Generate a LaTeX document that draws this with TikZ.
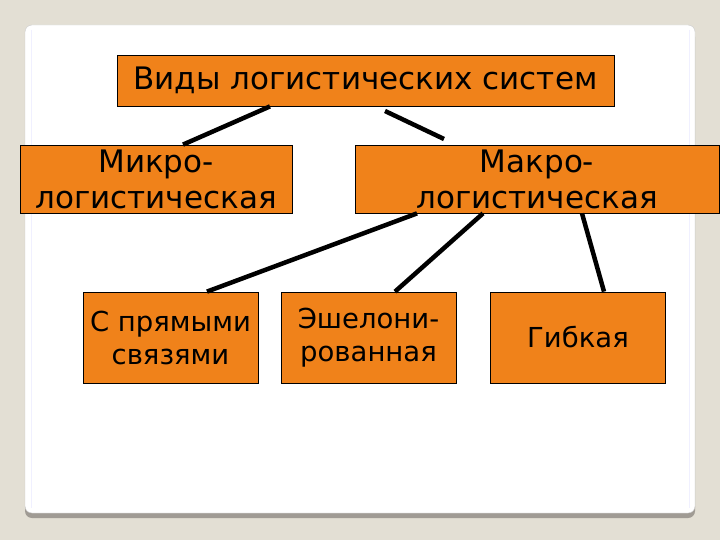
\documentclass[tikz,border=0pt]{standalone}
\usepackage{fontspec}
\setmainfont{DejaVu Sans}
\definecolor{bgcol}{RGB}{227,223,212}
\definecolor{boxorange}{RGB}{240,130,26}
\definecolor{shadowcol}{RGB}{160,155,148}
\begin{document}
\begin{tikzpicture}
  [x=1pt,y=-1pt,
   boxN/.style={rectangle,draw=black,line width=0.8pt,fill=boxorange,inner sep=0pt,align=center},
   edgeN/.style={line width=4.5pt,black}
  ]

  % slide background
  \fill[bgcol] (0,0) rectangle (720,540);
  \useasboundingbox (0,0) rectangle (720,540);
  \fill[shadowcol,rounded corners=7pt] (25,30) rectangle (695,518);
  \fill[white,draw=gray!40,rounded corners=7pt] (25,25) rectangle (695,513);
  \draw[blue!6,line width=1pt] (31,30) -- (31,508) (689,30) -- (689,508);

  \node[boxN,minimum width=497pt,minimum height=51pt,font=\fontsize{31}{36}\selectfont]
    (vidy) at (365.5,80.5) {Виды логистических систем};

  \foreach \x/\y/\w/\t in {156/mikro/272/Микро-, 537/makro/364/Макро-} {
     \node[boxN,minimum width=\w pt,minimum height=68pt,font=\fontsize{31}{36}\selectfont]
       (\y) at (\x,179) {\t\\логистическая};
  }

  \foreach \x/\y/\t in {170.5/prjam/{С прямыми\\связями}, 368.5/eshel/{Эшелони-\\рованная}, 578/gibk/Гибкая} {
     \node[boxN,minimum width=175pt,minimum height=91pt,font=\fontsize{27.5}{33}\selectfont]
       (\y) at (\x,337.5) {\t};
  }

  \coordinate (r1) at (385,111);
  \coordinate (r2) at (444,139);

  \draw[edgeN] ([xshift=27pt]mikro.north) -- ([xshift=-95.5pt]vidy.south);
  \draw[edgeN] (r1) -- (r2);

  \foreach \a/\b/\c in {prjam/-120/36.5, eshel/-54/26.5, gibk/45/26} {
      \draw[edgeN] ([xshift=\b pt]makro.south) -- ([xshift=\c pt]\a.north);
  }

\end{tikzpicture}
\end{document}
